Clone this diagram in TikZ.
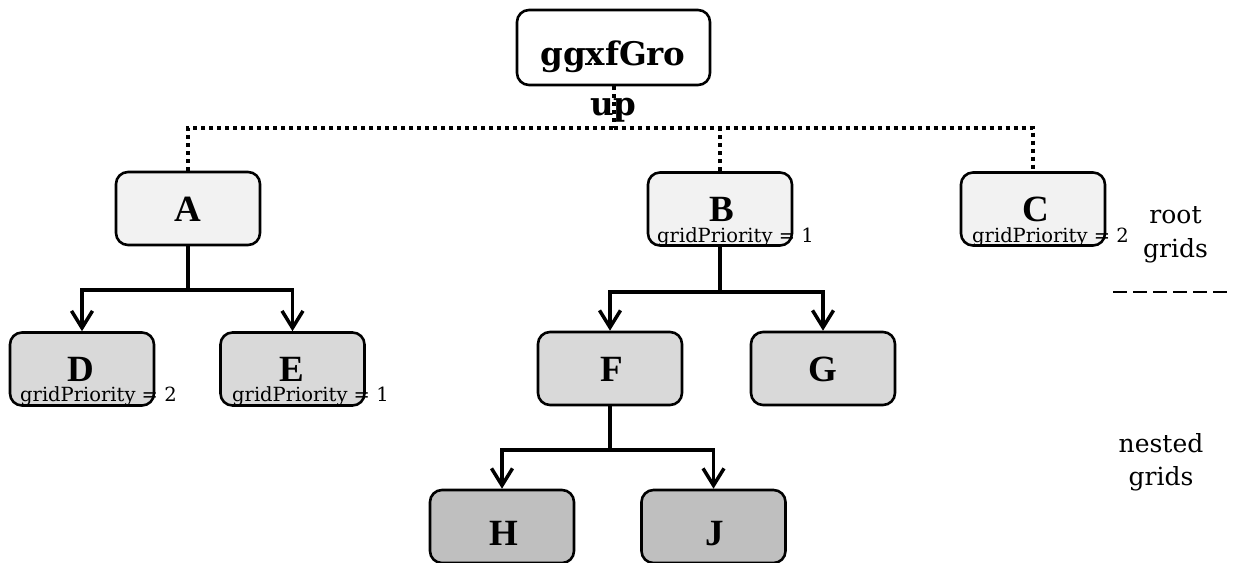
\documentclass[tikz,border=0pt]{standalone}
\usepackage{fontspec}
\setmainfont{Liberation Serif}
\newfontfamily\dvfont{DejaVu Serif}
\usetikzlibrary{arrows.meta}
\definecolor{fillA}{HTML}{F2F2F2}
\definecolor{fillB}{HTML}{D9D9D9}
\definecolor{fillC}{HTML}{BFBFBF}
\begin{document}
\begin{tikzpicture}[x=1pt,y=-1pt,
 box/.style={draw, line width=2.6pt, rounded corners=12pt, minimum width=144pt, minimum height=73pt, inner sep=0pt},
 lvla/.style={box, fill=fillA},
 lvlb/.style={box, fill=fillB},
 lvlc/.style={box, fill=fillC},
 letter/.style={font=\fontsize{37}{40}\selectfont\bfseries, anchor=base, inner sep=0pt},
 title/.style={font=\dvfont\fontsize{32.5}{36}\selectfont\bfseries, anchor=base, inner sep=0pt},
 prio/.style={font=\dvfont\fontsize{19.5}{22}\selectfont, anchor=base west, inner sep=0pt},
 side/.style={font=\dvfont\fontsize{25}{30}\selectfont, anchor=base, inner sep=0pt},
 treeline/.style={line width=3.5pt},
 tree/.style={line width=3.5pt, -{Straight Barb[length=17pt,width=21pt]}},
 dotline/.style={line width=4pt, dash pattern=on 4pt off 4pt},
]
\path[use as bounding box, fill=white] (0,0) rectangle (1233,562);

% boxes
\node[box, minimum width=193pt, minimum height=75pt] (root) at (613.5,47.5) {};
\node[lvla] (A) at (188,208.5) {};
\node[lvla] (B) at (720,209) {};
\node[lvla] (C) at (1033,209) {};
\node[lvlb] (D) at (82,369) {};
\node[lvlb] (E) at (292.5,369) {};
\node[lvlb] (F) at (610,368.5) {};
\node[lvlb] (G) at (823,368.5) {};
\node[lvlc] (H) at (502,526.5) {};
\node[lvlc] (J) at (713.5,526.5) {};

% texts
\node[title] (t1) at (613,65) {ggxfGro};
\node[title] (t2) at (613.5,115) {up};
\node[letter] (lA) at (188,221) {A};
\node[letter] (lB) at (722,221) {B};
\node[letter] (lC) at (1036,221) {C};
\node[letter] (lD) at (81,381) {D};
\node[letter] (lE) at (292,381) {E};
\node[letter] (lF) at (612,381) {F};
\node[letter] (lG) at (823,381) {G};
\node[letter] (lH) at (504,545) {H};
\node[letter] (lJ) at (715,545) {J};
\node[prio] (pB) at (657,242) {gridPriority = 1};
\node[prio] (pC) at (972,242) {gridPriority = 2};
\node[prio] (pD) at (20,401) {gridPriority = 2};
\node[prio] (pE) at (232,401) {gridPriority = 1};
\node[side] (s1) at (1175.5,223) {root};
\node[side] (s2) at (1175.5,257) {grids};
\node[side] (s3) at (1161,452) {nested};
\node[side] (s4) at (1161,485) {grids};

% separator
\coordinate (sepL) at (1113,292);
\coordinate (sepR) at (1233,292);
\draw[line width=2pt, dash pattern=on 14pt off 6pt] (sepL) -- (sepR);

% dotted root connectors
\coordinate (r1) at (613.5,128);
\draw[dotline] (root.south) -- (r1);
\draw[dotline] (A.north) |- (r1);
\draw[dotline] (r1) -| (C.north);
\draw[dotline] (B.north) -- (B.north |- r1);

% tree connectors
\coordinate (jA) at (188,290);
\draw[treeline] (A.south) -- (jA);
\draw[tree] (jA) -| (D.north);
\draw[tree] (jA) -| (E.north);
\coordinate (jB) at (720,292);
\draw[treeline] (B.south) -- (jB);
\draw[tree] (jB) -| (F.north);
\draw[tree] (jB) -| (G.north);
\coordinate (jF) at (610,450);
\draw[treeline] (F.south) -- (jF);
\draw[tree] (jF) -| (H.north);
\draw[tree] (jF) -| (J.north);
\end{tikzpicture}
\end{document}
